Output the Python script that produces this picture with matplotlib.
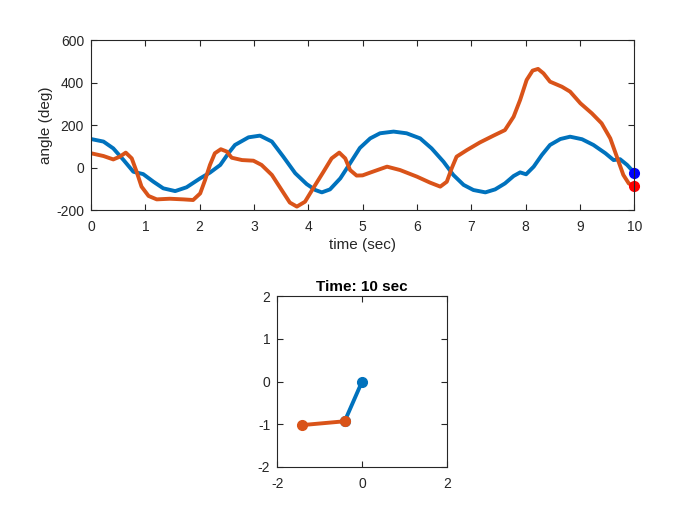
import matplotlib
matplotlib.use("Agg")
import matplotlib.pyplot as plt

plt.rcParams['font.family'] = ['Liberation Sans', 'DejaVu Sans']
plt.rcParams['axes.unicode_minus'] = False

t_blue = [0.0, 0.23, 0.41, 0.6, 0.78, 0.96, 1.15, 1.33, 1.55, 1.76, 2.01, 2.19, 2.38, 2.53,
          2.65, 2.9, 3.11, 3.33, 3.54, 3.76, 3.97, 4.13, 4.25, 4.4, 4.59, 4.77, 4.95,
          5.14, 5.32, 5.57, 5.81, 6.06, 6.27, 6.49, 6.67, 6.86, 7.04, 7.26, 7.44,
          7.62, 7.78, 7.9, 8.01, 8.15, 8.3, 8.45, 8.64, 8.82, 9.04, 9.25, 9.47, 9.62,
          9.74, 9.87, 10.0]
a_blue = [134, 122, 90, 35, -20, -31, -67, -98, -111, -93, -51, -24, 12, 67,
          106, 142, 150, 122, 51, -27, -78, -106, -117, -103, -51, 20, 92,
          137, 161, 169, 161, 137, 90, 27, -35, -82, -106, -117, -103,
          -75, -40, -23, -32, 4, 59, 106, 134, 145, 133, 106, 67, 35,
          39, 12, -24]

t_orange = [0.0, 0.23, 0.41, 0.53, 0.64, 0.75, 0.84, 0.93, 1.06, 1.21, 1.45, 1.7, 1.88, 2.01,
            2.1, 2.19, 2.28, 2.39, 2.5, 2.59, 2.78, 2.99, 3.14, 3.33, 3.51, 3.66, 3.79,
            3.94, 4.09, 4.28, 4.43, 4.57, 4.68, 4.77, 4.89, 5.0, 5.14, 5.45, 5.69, 6.0,
            6.24, 6.43, 6.55, 6.64, 6.73, 6.92, 7.16, 7.41, 7.62, 7.78, 7.9, 8.02, 8.13,
            8.23, 8.33, 8.45, 8.67, 8.82, 9.01, 9.22, 9.4, 9.56, 9.68, 9.8, 9.9, 10.0]
a_orange = [67, 54, 38, 51, 70, 43, -20, -90, -134, -150, -147, -150, -153, -122,
            -59, 12, 67, 86, 75, 46, 35, 32, 12, -35, -106, -165, -184,
            -161, -98, -20, 43, 70, 43, -12, -38, -37, -24, 4, -12, -43,
            -71, -90, -67, -4, 51, 82, 118, 150, 176, 239, 318, 412, 456,
            464, 443, 404, 380, 357, 302, 255, 208, 137, 51, -35, -75, -88]

end_time = 10
end_blue = -24
end_red = -88

pend_x1 = [0, -0.41]
pend_y1 = [0, -0.93]
pend_x2 = [-0.41, -1.42]
pend_y2 = [-0.93, -1.02]

BLUE = '#0072BD'
ORANGE = '#D95319'
AX = '#262626'

fig = plt.figure(figsize=(7, 5.25), dpi=100)

def style(ax):
    for s in ax.spines.values():
        s.set_color(AX)
        s.set_linewidth(0.8)
    ax.tick_params(direction='in', top=True, right=True, colors=AX, labelsize=10,
                   length=4)
    ax.tick_params(axis='x', pad=7)
    ax.tick_params(axis='y', pad=5)

ax1 = fig.add_axes([0.13, 0.6, 0.776, 0.3238])
ax1.plot(t_blue, a_blue, color=BLUE, lw=2.8, solid_joinstyle='round')
ax1.plot(t_orange, a_orange, color=ORANGE, lw=2.8, solid_joinstyle='round')
ax1.plot([end_time], [end_blue], 'o', color='#0000FF', ms=7, clip_on=False)
ax1.plot([end_time], [end_red], 'o', color='#FF0000', ms=7, clip_on=False)
ax1.set_xlim(0, 10)
ax1.set_ylim(-200, 600)
ax1.set_xticks(range(0, 11))
ax1.set_yticks([-200, 0, 200, 400, 600])
ax1.set_xlabel('time (sec)', fontsize=11, color=AX, labelpad=3)
ax1.set_ylabel('angle (deg)', fontsize=11, color=AX, labelpad=2)
style(ax1)

ax2 = fig.add_axes([0.396, 0.1105, 0.2425, 0.3255])
ax2.plot(pend_x1, pend_y1, '-o', color=BLUE, lw=2.8, ms=7)
ax2.plot(pend_x2, pend_y2, '-o', color=ORANGE, lw=2.8, ms=7)
ax2.set_xlim(-2, 2)
ax2.set_ylim(-2, 2)
ax2.set_xticks([-2, 0, 2])
ax2.set_yticks([-2, -1, 0, 1, 2])
ax2.set_title('Time: 10 sec', fontsize=11, fontweight='bold', color='black', pad=4)
style(ax2)

fig.savefig('out.png', dpi=100)
